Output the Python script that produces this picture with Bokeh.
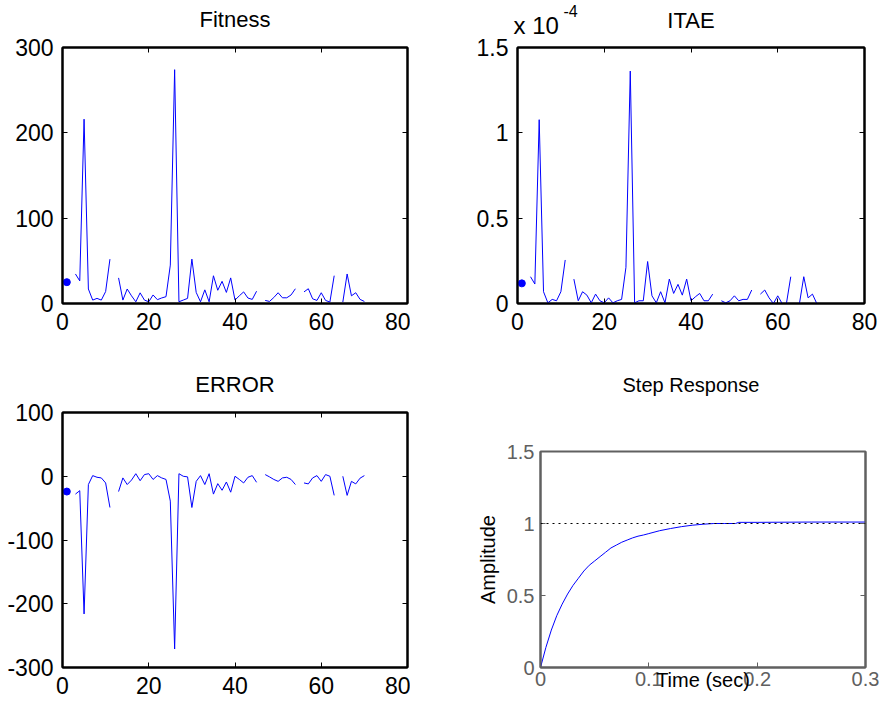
from bokeh.plotting import figure
from bokeh.layouts import column, row
from bokeh.models import Range1d, LinearAxis, FixedTicker, CustomJSTickFormatter, Label, Span
from bokeh.embed import file_html
from bokeh.resources import INLINE

nan = float("nan")

# ---------------- data ----------------
iteration = list(range(1, 71))

fitness = [25, nan, 34.6, 26.5, 216, 17, 4, 6, 4, 14,
           52, nan, 30, 4, 17, 9, 2, 12.5, 4, 2,
           10, 4.5, 6.5, 8, 45, 274, 2, 4, 6, 52,
           13, 2, 16, 2, 32.5, 15.5, 26, 13, 30, 4,
           9, 13.6, 6.4, 4.8, 14.4, nan, 3.6, 2.4, 7, 12.6,
           6.7, 6.7, 10, 17.3, nan, 13.6, 17.3, 5.5, 3.6, 12.6,
           3.6, 1.7, 32.6, nan, 1.7, 34.6, 9, 12.6, 4.8, 2.4]

itae_x1e4 = [0.118, nan, 0.157, 0.114, 1.077, 0.069, 0.004, 0.024, 0.016, 0.069,
             0.255, nan, 0.143, 0.016, 0.069, 0.049, 0.004, 0.055, 0.016, 0.004,
             0.033, 0.004, 0.016, 0.024, 0.212, 1.362, 0.004, 0.016, 0.016, 0.246,
             0.045, 0.004, 0.069, 0.004, 0.143, 0.059, 0.112, 0.049, 0.143, 0.016,
             0.039, 0.059, 0.016, 0.016, 0.055, nan, 0.016, 0.004, 0.016, 0.045,
             0.016, 0.024, 0.024, 0.079, nan, 0.055, 0.079, 0.033, 0.0, 0.045,
             0.0, 0.0, 0.157, nan, 0.0, 0.157, 0.033, 0.055, 0.0, 0.0]

error = [-24, nan, -28, -22.6, -216, -13, 1, -1.6, -2.6, -10.5,
         -49, nan, -24, -2.6, -13, -6, 4, -7, 2.6, 4,
         -5, 1, -2.6, -5, -39, -271, 4, 0, -1, -49,
         -8, 1, -13, 4, -28, -11.6, -22, -9, -25, 0,
         -5, -10.5, -1.6, 1, -9.5, nan, 2.6, -1, -5, -8,
         -2.6, -1.6, -5, -13, nan, -10.5, -12, -2.6, 1, -8,
         2.6, 0, -30, nan, 0, -30, -8, -12, -3, 1]

step_time = [0, 0.005, 0.01, 0.015, 0.02, 0.025, 0.03, 0.035, 0.04, 0.045,
             0.05, 0.055, 0.06, 0.065, 0.07, 0.075, 0.08, 0.085, 0.09, 0.095,
             0.1, 0.11, 0.12, 0.13, 0.14, 0.15, 0.16, 0.17, 0.18, 0.183,
             0.2, 0.25, 0.3]
step_amplitude = [0, 0.14, 0.26, 0.36, 0.44, 0.51, 0.57, 0.62, 0.67, 0.71,
                  0.74, 0.77, 0.80, 0.83, 0.85, 0.87, 0.885, 0.90, 0.912, 0.92,
                  0.93, 0.95, 0.965, 0.978, 0.988, 0.995, 1.0, 1.0, 1.0, 1.008,
                  1.008, 1.01, 1.01]
step_final = 1.0

iter_ticks = [0, 20, 40, 60, 80]
fitness_ticks = [0, 100, 200, 300]
itae_ticks = [0, 0.5, 1, 1.5]
error_ticks = [-300, -200, -100, 0, 100]
time_ticks = [0, 0.1, 0.2, 0.3]
amp_ticks = [0, 0.5, 1, 1.5]

# ---------------- styling ----------------
FONT = "Liberation Sans"
BLUE = "#0000FF"
GRAY = "#606060"


def make_fig(width, height, left, right, top, bottom, xr, yr, xt, yt,
             axis_color="black", label_color="black", fs="23px", standoff=9,
             mirror_x=True, mirror_y=True):
    p = figure(width=width, height=height, title=None,
               x_range=Range1d(*xr), y_range=Range1d(*yr),
               output_backend="svg", toolbar_location=None,
               min_border_left=left, min_border_right=right,
               min_border_top=top, min_border_bottom=bottom)
    if "frame_align" in p.properties():
        p.frame_align = False
    p.xgrid.visible = False
    p.ygrid.visible = False
    p.outline_line_color = axis_color
    p.outline_line_width = 2
    p.border_fill_color = "white"
    p.background_fill_color = "white"
    for ax, ticks in ((p.xaxis[0], xt), (p.yaxis[0], yt)):
        ax.ticker = FixedTicker(ticks=ticks)
        ax.formatter = CustomJSTickFormatter(code="return tick.toString()")
        ax.major_tick_in = 5
        ax.major_tick_out = 0
        ax.minor_tick_line_color = None
        ax.axis_line_color = axis_color
        ax.axis_line_width = 2
        ax.major_tick_line_color = axis_color
        ax.major_tick_line_width = 1
        ax.major_label_text_font = FONT
        ax.major_label_text_font_size = fs
        ax.major_label_text_color = label_color
        ax.major_label_standoff = standoff
    mirrors = []
    if mirror_x:
        mirrors.append((LinearAxis(), xt, "above"))
    if mirror_y:
        mirrors.append((LinearAxis(), yt, "right"))
    for ax, ticks, side in mirrors:
        ax.ticker = FixedTicker(ticks=ticks)
        ax.formatter = CustomJSTickFormatter(code="return ''")
        ax.major_label_text_font_size = "0px"
        ax.major_label_standoff = 0
        ax.major_tick_in = 5
        ax.major_tick_out = 0
        ax.minor_tick_line_color = None
        ax.axis_line_color = axis_color
        ax.axis_line_width = 2
        ax.major_tick_line_color = axis_color
        p.add_layout(ax, side)
    return p


def add_text(p, side, x, y, text, size, align, x_off, y_off, color="black"):
    p.add_layout(Label(x=x, y=y, text=text, text_font=FONT, text_font_size=size,
                       text_align=align, text_baseline="alphabetic",
                       x_offset=x_off, y_offset=y_off, text_color=color), side)


# Fitness
p1 = make_fig(410, 356, 62, 3, 47, 53, (0, 80), (0, 300), iter_ticks, fitness_ticks)
p1.line(iteration, fitness, line_color=BLUE, line_width=1)
p1.scatter([iteration[0]], [fitness[0]], size=7, color=BLUE)
add_text(p1, "above", 40, 300, "Fitness", "22px", "center", 0, 28)

# ITAE
p2 = make_fig(470, 356, 107, 16, 47, 53, (0, 80), (0, 1.5), iter_ticks, itae_ticks)
p2.line(iteration, itae_x1e4, line_color=BLUE, line_width=1)
p2.scatter([iteration[0]], [itae_x1e4[0]], size=7, color=BLUE)
add_text(p2, "above", 40, 1.5, "ITAE", "22px", "center", 0, 27)
add_text(p2, "left", 0, 1.5, "x 10", "24px", "left", -4, 22)
add_text(p2, "left", 0, 1.5, "-4", "16px", "left", 46, 37)

# ERROR
p3 = make_fig(410, 347, 62, 3, 56, 36, (0, 80), (-300, 100), iter_ticks, error_ticks)
p3.line(iteration, error, line_color=BLUE, line_width=1)
p3.scatter([iteration[0]], [error[0]], size=7, color=BLUE)
add_text(p3, "above", 40, 100, "ERROR", "22px", "center", 0, 28.5)

# Step response
p4 = make_fig(470, 347, 130, 15, 95, 36, (0, 0.3), (0, 1.5), time_ticks, amp_ticks,
              axis_color=GRAY, label_color=GRAY, fs="20px", standoff=6,
              mirror_x=False, mirror_y=True)
p4.xaxis[0].major_label_standoff = 4
p4.yaxis[0].axis_label = "Amplitude"
p4.yaxis[0].axis_label_text_font = FONT
p4.yaxis[0].axis_label_text_font_size = "20px"
p4.yaxis[0].axis_label_text_font_style = "normal"
p4.yaxis[0].axis_label_text_color = "black"
p4.yaxis[0].axis_label_standoff = 5
p4.xaxis[0].axis_label = "Time (sec)"
p4.xaxis[0].axis_label_text_font = FONT
p4.xaxis[0].axis_label_text_font_size = "20px"
p4.xaxis[0].axis_label_text_font_style = "normal"
p4.xaxis[0].axis_label_text_color = "black"
p4.xaxis[0].axis_label_standoff = -20
p4.add_layout(Span(location=step_final, dimension="width", line_color="black",
                   line_dash="dotted", line_width=1))
p4.line(step_time, step_amplitude, line_color=BLUE, line_width=1)
add_text(p4, "above", 0, 1.5, "Step Response", "20px", "left", 82, 67)

layout = column(row(p1, p2), row(p3, p4))
open("out.html", "w").write(file_html(layout, INLINE))
